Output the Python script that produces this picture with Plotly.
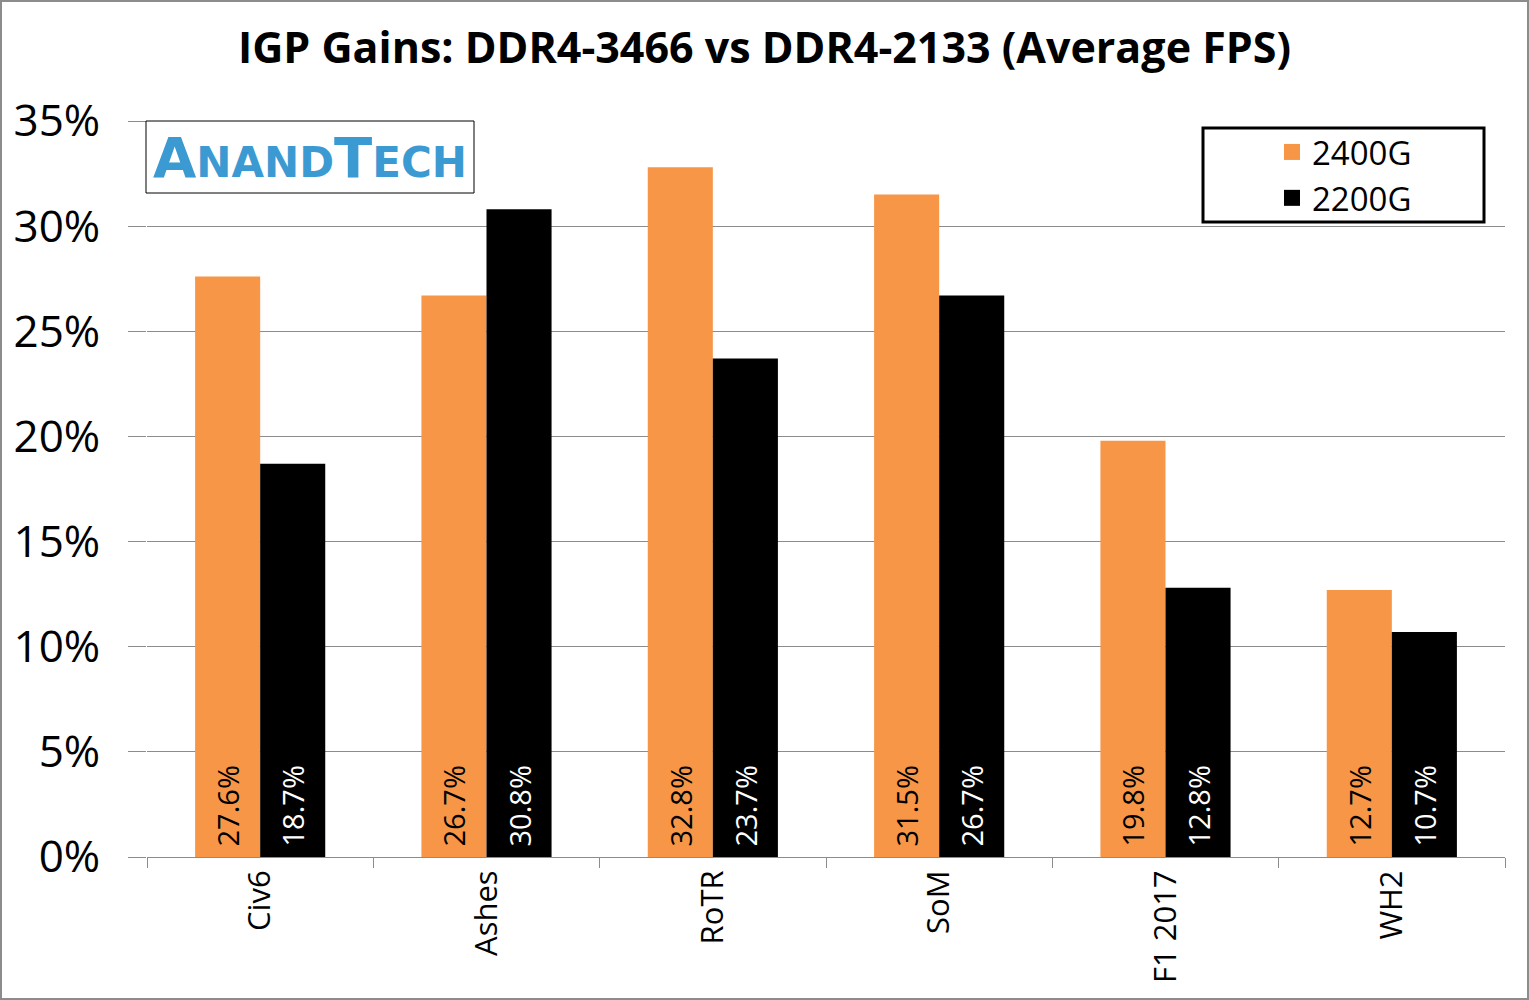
import plotly.graph_objects as go

categories = ["Civ6", "Ashes", "RoTR", "SoM", "F1 2017", "WH2"]
gain_2400g = [27.6, 26.7, 32.8, 31.5, 19.8, 12.7]
gain_2200g = [18.7, 30.8, 23.7, 26.7, 12.8, 10.7]
series_names = ["2400G", "2200G"]
series_colors = ["#F79646", "black"]
y_ticks = [0, 5, 10, 15, 20, 25, 30, 35]

FONT = "Open Sans"
W, H = 1529, 1000
L, R, T, B = 147, 24, 121, 143
pw, ph = W - L - R, H - T - B

def px_x(x):
    return (x - L) / pw

def px_y(y):
    return (H - B - y) / ph

fig = go.Figure()
for name, vals, col, tcol in [(series_names[0], gain_2400g, series_colors[0], "black"),
                              (series_names[1], gain_2200g, series_colors[1], "white")]:
    fig.add_trace(go.Bar(
        name=name, x=categories, y=vals, showlegend=False,
        marker=dict(color=col, line=dict(width=0)),
        text=[f"\u00a0{v:.1f}%" for v in vals],
        textposition="inside", insidetextanchor="start", textangle=-90,
        insidetextfont=dict(color=tcol, size=29, family=FONT),
    ))
# legend entries with larger square symbols
for name, col in zip(series_names, series_colors):
    fig.add_trace(go.Scatter(
        name=name, x=[None], y=[None], mode="markers",
        marker=dict(symbol="square", size=20, color=col),
        showlegend=True,
    ))

fig.update_layout(
    width=W, height=H,
    margin=dict(l=L, r=R, t=T, b=B, autoexpand=False),
    paper_bgcolor="white", plot_bgcolor="white",
    barmode="group", bargap=0.425, bargroupgap=0,
    uniformtext=dict(minsize=29, mode="show"),
    font=dict(family=FONT, color="black"),
    title=dict(text="<b>IGP Gains: DDR4-3466 vs DDR4-2133 (Average FPS)</b>",
               x=0.5, xref="container", xanchor="center", y=1 - 48 / H, yanchor="middle",
               font=dict(size=43, family=FONT, color="black")),
    legend=dict(x=px_x(1272), y=px_y(175), xanchor="left", yanchor="middle",
                borderwidth=0, bgcolor="rgba(0,0,0,0)",
                font=dict(size=33, family=FONT), itemwidth=30,
                tracegroupgap=0, traceorder="normal"),
    showlegend=True,
)
fig.update_xaxes(
    showline=True, linecolor="#8c8c8c", linewidth=1, automargin=False,
    ticks="outside", tickson="boundaries", ticklen=10, tickcolor="#8c8c8c",
    tickangle=-90, tickfont=dict(size=31, family=FONT), showgrid=False,
)
fig.update_yaxes(
    range=[0, 35], tickvals=y_ticks, ticktext=[f"{v}%" for v in y_ticks],
    showgrid=True, gridcolor="#8c8c8c", gridwidth=1, automargin=False,
    ticks="outside", ticklen=18, tickcolor="#8c8c8c", ticklabelstandoff=19,
    tickfont=dict(size=44, family=FONT), showline=False, zeroline=False,
)

# outer frame
fig.add_shape(type="rect", xref="paper", yref="paper",
              x0=px_x(1), x1=px_x(W - 1), y0=px_y(H - 1), y1=px_y(1),
              line=dict(color="#8c8c8c", width=2), fillcolor="rgba(0,0,0,0)", layer="below")
# legend box
fig.add_shape(type="rect", xref="paper", yref="paper",
              x0=px_x(1203), x1=px_x(1484), y0=px_y(222), y1=px_y(128),
              line=dict(color="black", width=3), fillcolor="white", layer="above")
# logo box
fig.add_shape(type="rect", xref="paper", yref="paper",
              x0=px_x(146), x1=px_x(474), y0=px_y(193), y1=px_y(121),
              line=dict(color="black", width=1), fillcolor="white", layer="above")
fig.add_annotation(xref="paper", yref="paper", x=px_x(310), y=px_y(157),
                   text="<b>A<span style='font-size:42px'>NAND</span>T<span style='font-size:42px'>ECH</span></b>",
                   showarrow=False, font=dict(size=56, family="DejaVu Sans", color="#3C9AD2"),
                   xanchor="center", yanchor="middle")

fig.write_html("out.html")
